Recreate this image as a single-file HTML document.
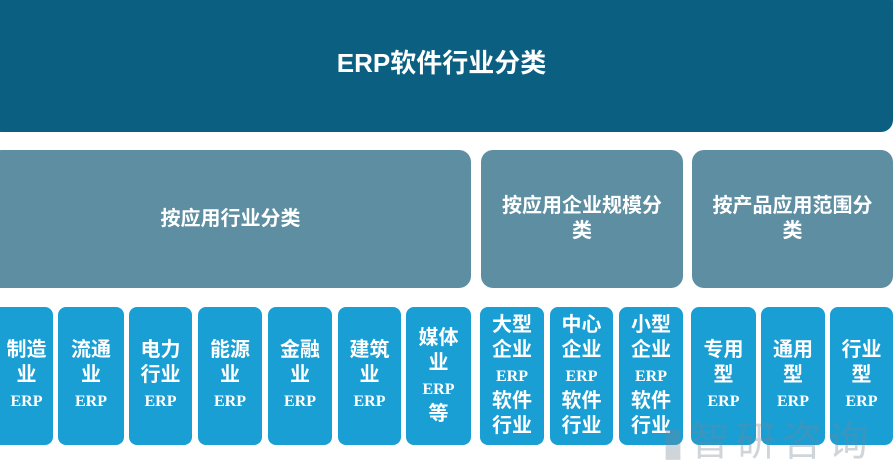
<!DOCTYPE html>
<html><head><meta charset="utf-8"><style>
body{margin:0;width:896px;height:456px;background:#fff;position:relative;overflow:hidden;font-family:"Liberation Sans","Noto Sans CJK SC",sans-serif;}
.b{position:absolute;color:#fff;display:flex;align-items:center;justify-content:center;text-align:center;font-weight:bold;box-sizing:border-box;}
.top{left:-10px;top:-10px;width:903px;height:142px;background:#0b5f80;border-radius:12px;font-size:26px;}
.mid{top:150px;height:138px;background:#5e8ea2;border-radius:12px;font-size:20px;line-height:25px;}
.bot{top:307px;height:138px;background:#1a9fd4;border-radius:8px;font-size:20px;line-height:25px;}
.e{font-family:"Liberation Serif",serif;font-size:16px;font-weight:bold;}
</style></head><body>
<div class="b top">ERP软件行业分类</div>
<div class="b mid" style="left:-10px;width:481px">按应用行业分类</div>
<div class="b mid" style="left:481px;width:202px"><div>按应用企业规模分<br>类</div></div>
<div class="b mid" style="left:692px;width:201px"><div>按产品应用范围分<br>类</div></div>
<div class="b bot" style="left:-12px;width:65px;padding-left:12px"><div>制造<br>业<br><span class="e">ERP</span></div></div>
<div class="b bot" style="left:58px;width:66px"><div>流通<br>业<br><span class="e">ERP</span></div></div>
<div class="b bot" style="left:129px;width:63px"><div>电力<br>行业<br><span class="e">ERP</span></div></div>
<div class="b bot" style="left:198px;width:64px"><div>能源<br>业<br><span class="e">ERP</span></div></div>
<div class="b bot" style="left:268px;width:64px"><div>金融<br>业<br><span class="e">ERP</span></div></div>
<div class="b bot" style="left:338px;width:63px"><div>建筑<br>业<br><span class="e">ERP</span></div></div>
<div class="b bot" style="left:406px;width:65px"><div>媒体<br>业<br><span class="e">ERP</span><br>等</div></div>
<div class="b bot" style="left:480px;width:64px"><div>大型<br>企业<br><span class="e">ERP</span><br>软件<br>行业</div></div>
<div class="b bot" style="left:550px;width:63px"><div>中心<br>企业<br><span class="e">ERP</span><br>软件<br>行业</div></div>
<div class="b bot" style="left:619px;width:64px"><div>小型<br>企业<br><span class="e">ERP</span><br>软件<br>行业</div></div>
<div class="b bot" style="left:691px;width:65px"><div>专用<br>型<br><span class="e">ERP</span></div></div>
<div class="b bot" style="left:761px;width:64px"><div>通用<br>型<br><span class="e">ERP</span></div></div>
<div class="b bot" style="left:830px;width:63px"><div>行业<br>型<br><span class="e">ERP</span></div></div>
<div style="position:absolute;left:662px;top:414px;font-size:40px;line-height:48px;color:rgba(120,135,150,0.35);font-family:'Noto Sans CJK SC',sans-serif;letter-spacing:6px;">▮智研咨询</div>
</body></html>
